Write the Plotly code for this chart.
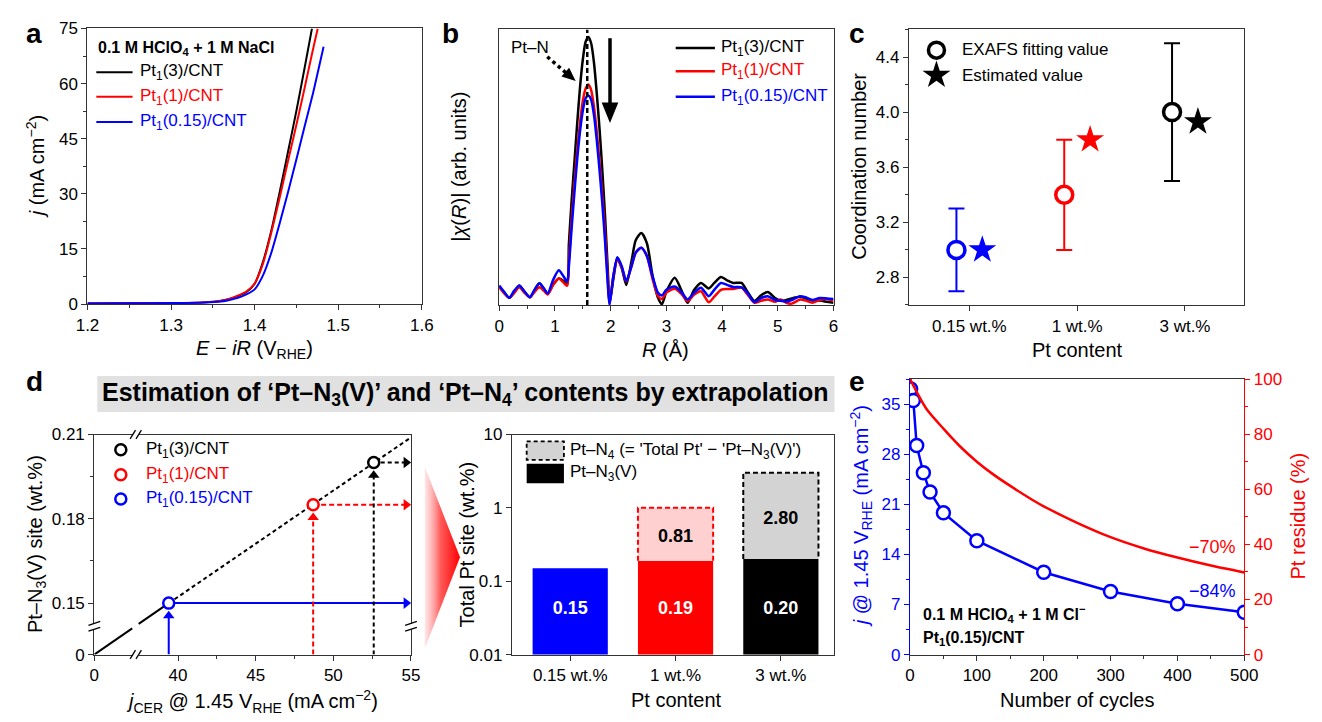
import numpy as np
import plotly.graph_objects as go

W, H = 1322, 722
FONT = "Liberation Sans, Arial, Helvetica, sans-serif"
BLUE, RED, BLACK = "#0000FF", "#FF0000", "#000000"
PINK, GRAY = "#FFD0D0", "#D3D3D3"
AX = "#333333"

# ======================= DATA =======================
# (a) polarization curves
a_E_pt3 = [1.20, 1.25, 1.30, 1.34, 1.36, 1.37, 1.38, 1.39, 1.40, 1.41, 1.42, 1.43, 1.44, 1.45, 1.46, 1.4686]
a_j_pt3 = [0.15, 0.20, 0.25, 0.45, 0.90, 1.40, 2.20, 3.20, 5.50, 11.5, 20.0, 30.5, 41.5, 52.6, 64.5, 75.0]
a_E_pt1 = [1.20, 1.25, 1.30, 1.34, 1.36, 1.37, 1.38, 1.39, 1.40, 1.41, 1.42, 1.43, 1.44, 1.45, 1.46, 1.47, 1.4755]
a_j_pt1 = [0.15, 0.20, 0.25, 0.45, 0.90, 1.45, 2.30, 3.40, 5.60, 11.0, 19.5, 29.0, 39.0, 48.8, 59.0, 69.5, 75.0]
a_E_pt015 = [1.20, 1.25, 1.30, 1.34, 1.36, 1.37, 1.38, 1.39, 1.40, 1.41, 1.42, 1.43, 1.44, 1.45, 1.46, 1.47, 1.4825]
a_j_pt015 = [0.15, 0.20, 0.25, 0.40, 0.70, 1.10, 1.70, 2.60, 4.00, 7.80, 14.0, 22.0, 30.5, 39.4, 48.5, 57.5, 70.0]

# (b) EXAFS |chi(R)| (arb. units)
b_R = [0.00, 0.09, 0.18, 0.27, 0.36, 0.45, 0.55, 0.63, 0.72, 0.80, 0.87, 0.97, 1.07, 1.15, 1.22,
       1.25, 1.30, 1.35, 1.40, 1.45, 1.50, 1.55, 1.60, 1.65, 1.70, 1.75, 1.80, 1.85, 1.90, 1.95, 1.98,
       2.05, 2.12, 2.20, 2.28, 2.38, 2.45, 2.55, 2.65, 2.75, 2.85, 2.92, 3.00, 3.15, 3.28, 3.38, 3.50,
       3.62, 3.76, 3.86, 3.98, 4.10, 4.20, 4.35, 4.45, 4.58, 4.70, 4.82, 4.95, 5.05, 5.15, 5.25, 5.40,
       5.50, 5.62, 5.75, 5.88, 6.00]
b_pt3 = [6.7, 4.5, 2.6, 4.7, 7.0, 4.9, 2.8, 5.2, 7.9, 6.0, 4.0, 7.5, 9.6, 8.8, 7.5,
         22, 38, 52, 66, 79, 89, 95.5, 97.3, 95, 88, 77, 64, 49, 32, 12, 1,
         9.6, 17.2, 13.4, 7.3, 16.5, 23.5, 26.1, 22.4, 10.9, 2.6, 0.3, 4.9, 9.9, 4.9, 0.8, 5.5,
         8.0, 6.0, 8.0, 10.2, 8.8, 8.0, 8.0, 5.0, 1.5, 3.5, 4.7, 2.5, 1.5, 1.8, 2.4, 3.0,
         2.4, 1.6, 1.6, 1.2, 0.8]
b_pt1 = [6.4, 4.2, 2.6, 4.4, 6.4, 4.5, 2.8, 4.6, 6.4, 5.2, 3.8, 7.3, 9.6, 8.2, 7.0,
         16, 31, 44, 56, 66, 74, 78.5, 80, 78, 72, 63, 52, 40, 26, 9, 0.3,
         10.8, 16.5, 13.5, 8.5, 14.5, 19.0, 20.8, 17.8, 9.6, 3.2, 2.2, 4.5, 5.9, 3.8, 1.4, 3.8,
         5.0, 1.0, 3.0, 5.5, 5.8, 5.8, 6.3, 4.0, 0.8, 1.5, 2.0, 1.2, 2.0, 0.8, 0.5, 2.0,
         1.6, 0.8, 1.8, 2.2, 1.6]
b_pt015 = [7.1, 4.7, 2.6, 5.2, 7.1, 5.0, 2.8, 5.4, 7.9, 6.0, 4.2, 9.2, 12.6, 10.5, 8.5,
           14, 28, 41, 53, 63, 70.5, 75, 76, 74.5, 69, 60, 49, 37, 23, 7, 0,
           10.8, 17.2, 14.0, 8.7, 14.5, 19.0, 20.8, 17.8, 10.5, 4.4, 3.5, 5.5, 6.7, 4.4, 2.0, 4.5,
           6.3, 3.2, 5.5, 8.0, 7.2, 6.5, 6.4, 4.5, 1.0, 2.5, 3.2, 1.8, 1.6, 1.2, 1.8, 3.2,
           2.8, 1.8, 2.5, 2.4, 2.2]
b_ptn_R = 1.58

# (c) coordination numbers
c_labels = ["0.15 wt.%", "1 wt.%", "3 wt.%"]
c_exafs = [3.0, 3.4, 4.0]
c_err = [0.3, 0.4, 0.5]
c_est = [3.0, 3.8, 3.93]

# (d-left) Pt-N3(V) site vs j_CER
dl_names = ["Pt<sub>1</sub>(0.15)/CNT", "Pt<sub>1</sub>(1)/CNT", "Pt<sub>1</sub>(3)/CNT"]
dl_j = [39.4, 48.7, 52.6]
dl_site = [0.150, 0.185, 0.200]

# (d-right) total Pt site
dr_labels = ["0.15 wt.%", "1 wt.%", "3 wt.%"]
dr_n3 = [0.15, 0.19, 0.20]
dr_n4 = [0.0, 0.81, 2.80]
dr_n3_text = ["0.15", "0.19", "0.20"]
dr_n4_text = ["", "0.81", "2.80"]

# (e) stability
e_cyc = [0, 1, 5, 10, 20, 30, 50, 100, 200, 300, 400, 500]
e_j = [40.0, 37.1, 35.5, 29.2, 25.4, 22.7, 19.8, 15.9, 11.5, 8.8, 7.1, 5.9]
e_res_cyc = [0, 10, 25, 50, 75, 100, 125, 150, 184, 200, 250, 300, 350, 400, 450, 500]
e_res = [100, 95.3, 89.0, 82.0, 75.5, 70.0, 65.3, 61.2, 56.0, 53.8, 47.8, 42.6, 38.5, 35.2, 32.3, 29.8]

# ======================= HELPERS =======================
def xdom(p0, p1):
    return [p0 / W, p1 / W]

def ydom(top, bot):
    return [1 - bot / H, 1 - top / H]

def PX(x):
    return x / W

def PY(y):
    return 1 - y / H

def mn(dt=None, **kw):
    d = dict(ticks="outside", ticklen=3, tickwidth=1.2, tickcolor=AX)
    if dt is not None:
        d["dtick"] = dt
    d.update(kw)
    return d

def ax(**kw):
    d = dict(showline=True, linecolor=AX, linewidth=1.3, mirror=True, ticks="outside",
             ticklen=5, tickwidth=1.3, tickcolor=AX, showgrid=False, zeroline=False,
             tickfont=dict(family=FONT, size=17, color="black"), fixedrange=True)
    d.update(kw)
    return d

fig = go.Figure()

def S(**kw):
    fig.add_trace(go.Scatter(showlegend=False, hoverinfo="skip", **kw))

annots = []
shapes = []

def txt(s, x, y, size=17, color="black", xa="left", ya="middle", angle=0, bold=False):
    if bold:
        s = "<b>" + s + "</b>"
    annots.append(dict(text=s, x=PX(x), y=PY(y), xref="paper", yref="paper", showarrow=False,
                       xanchor=xa, yanchor=ya, textangle=angle,
                       font=dict(family=FONT, size=size, color=color)))

def tri(pts, color=BLACK):
    path = "M " + " L ".join("%.5f,%.5f" % (PX(x), PY(y)) for x, y in pts) + " Z"
    shapes.append(dict(type="path", path=path, xref="paper", yref="paper",
                       fillcolor=color, line=dict(width=0), layer="above"))

def pline(x0, y0, x1, y1, color=BLACK, width=1.5, dash="solid"):
    shapes.append(dict(type="line", x0=PX(x0), y0=PY(y0), x1=PX(x1), y1=PY(y1), xref="paper",
                       yref="paper", line=dict(color=color, width=width, dash=dash), layer="above"))

def prect(x0, y0, x1, y1, fill="white", lc=None, lw=0, dash="solid"):
    shapes.append(dict(type="rect", x0=PX(x0), y0=PY(y0), x1=PX(x1), y1=PY(y1), xref="paper",
                       yref="paper", fillcolor=fill,
                       line=dict(color=lc or fill, width=lw, dash=dash), layer="above"))

# ======================= PANEL A =======================
for E, j, c in [(a_E_pt3, a_j_pt3, BLACK), (a_E_pt1, a_j_pt1, RED), (a_E_pt015, a_j_pt015, BLUE)]:
    S(x=E, y=j, mode="lines", line=dict(color=c, width=2, shape="spline", smoothing=0.6),
      xaxis="x", yaxis="y")

# ======================= PANEL B =======================
for v, c in [(b_pt3, BLACK), (b_pt1, RED), (b_pt015, BLUE)]:
    S(x=b_R, y=v, mode="lines", line=dict(color=c, width=2.5, shape="spline", smoothing=0.7),
      xaxis="x2", yaxis="y2")
S(x=[b_ptn_R, b_ptn_R], y=[0, 100], mode="lines", line=dict(color=BLACK, width=2.5, dash="5px,3px"),
  xaxis="x2", yaxis="y2")

# ======================= PANEL C =======================
c_cols = [BLUE, RED, BLACK]
for i in range(3):
    S(x=[i + 1 - 0.12], y=[c_exafs[i]], mode="markers",
      marker=dict(symbol="circle", size=17, color="white", line=dict(color=c_cols[i], width=3.5)),
      error_y=dict(type="data", array=[c_err[i]], color=c_cols[i], thickness=2, width=8),
      xaxis="x3", yaxis="y3")
S(x=[i + 1 + 0.12 for i in range(3)], y=c_est, mode="markers",
  marker=dict(symbol="star", size=21, color=c_cols, line=dict(width=0)), xaxis="x3", yaxis="y3")

# ======================= PANEL D-LEFT =======================
DL_X0, DL_Y0 = 34.61, 0.1317   # display positions of the broken-axis origin
xpx = (55 - DL_X0) / 323.0
ypx = (0.21 - DL_Y0) / 226.0
fit = np.polyfit(dl_j, dl_site, 1)
xf = [dl_j[0], 55.0]
S(x=xf, y=list(np.polyval(fit, xf)), mode="lines", line=dict(color=BLACK, width=2, dash="4px,3px"),
  xaxis="x4", yaxis="y4")
ox, oy = DL_X0, DL_Y0
t1, t2 = 0.509, 0.596
S(x=[ox, ox + t1 * (dl_j[0] - ox), None, ox + t2 * (dl_j[0] - ox), dl_j[0]],
  y=[oy, oy + t1 * (dl_site[0] - oy), None, oy + t2 * (dl_site[0] - oy), dl_site[0]],
  mode="lines", line=dict(color=BLACK, width=2), xaxis="x4", yaxis="y4")
dl_cols = [BLUE, RED, BLACK]
dl_dash = ["solid", "5px,3px", "4px,3px"]
r = 5.0
for i in range(3):
    xi, yi, c = dl_j[i], dl_site[i], dl_cols[i]
    tip_y = yi - 8 * ypx
    hy = tip_y - r * ypx
    S(x=[xi, xi], y=[DL_Y0, hy], mode="lines", line=dict(color=c, width=2, dash=dl_dash[i]),
      xaxis="x4", yaxis="y4")
    hx = 55 - r * xpx
    S(x=[xi, hx], y=[yi, yi], mode="lines", line=dict(color=c, width=2, dash=dl_dash[i]),
      xaxis="x4", yaxis="y4")
    S(x=[xi, hx], y=[hy, yi], mode="markers",
      marker=dict(symbol=["triangle-up", "triangle-right"], size=10, color=c, line=dict(width=0)),
      xaxis="x4", yaxis="y4", cliponaxis=False)
S(x=dl_j, y=dl_site, mode="markers",
  marker=dict(symbol="circle", size=11, color="white", line=dict(color=dl_cols, width=2.5)),
  xaxis="x4", yaxis="y4", cliponaxis=False)

# ======================= PANEL D-RIGHT =======================
BW = 0.714
dr_x = [1, 2, 3]
fig.add_trace(go.Bar(x=dr_x, y=dr_n3, width=BW, marker=dict(color=[BLUE, RED, BLACK], line=dict(width=0)),
                     xaxis="x5", yaxis="y5", showlegend=False, hoverinfo="skip"))
fig.add_trace(go.Bar(x=dr_x, y=dr_n4, base=dr_n3, width=BW,
                     marker=dict(color=["white", PINK, GRAY], line=dict(width=0)),
                     xaxis="x5", yaxis="y5", showlegend=False, hoverinfo="skip"))
dr_tot = [a + b for a, b in zip(dr_n3, dr_n4)]
for i, c in [(1, RED), (2, BLACK)]:
    xc = dr_x[i]
    S(x=[xc - BW / 2, xc - BW / 2, xc + BW / 2, xc + BW / 2],
      y=[dr_n3[i], dr_tot[i], dr_tot[i], dr_n3[i]], mode="lines",
      line=dict(color=c, width=2, dash="5px,3px"), xaxis="x5", yaxis="y5")
S(x=dr_x, y=[0.041] * 3, mode="text", text=["<b>%s</b>" % t for t in dr_n3_text],
  textfont=dict(family=FONT, size=18, color="white"), xaxis="x5", yaxis="y5")
S(x=dr_x[1:], y=[0.9 * np.sqrt(dr_n3[i] * dr_tot[i]) for i in (1, 2)], mode="text",
  text=["<b>%s</b>" % t for t in dr_n4_text[1:]],
  textfont=dict(family=FONT, size=18, color="black"), xaxis="x5", yaxis="y5")

# ======================= PANEL E =======================
S(x=e_res_cyc, y=e_res, mode="lines", line=dict(color=RED, width=2.5, shape="spline", smoothing=0.8),
  xaxis="x6", yaxis="y7")
S(x=e_cyc, y=e_j, mode="lines+markers", line=dict(color=BLUE, width=2.5),
  marker=dict(symbol="circle", size=13, color="white", line=dict(color=BLUE, width=2.5)),
  xaxis="x6", yaxis="y6")

# ======================= OVERLAY (pixel space) =======================
S(x=[421, 457, 421, 421], y=[470, 563, 657, 470], mode="lines", line=dict(width=0),
  fill="toself", fillgradient=dict(type="horizontal",
                                   colorscale=[[0, "rgba(255,215,215,0.6)"], [0.45, "rgb(255,90,90)"],
                                               [1, "rgb(255,0,0)"]]),
  xaxis="x8", yaxis="y8")
for yy, c in [(65, BLACK), (90, RED), (116, BLUE)]:
    S(x=[86, 123], y=[yy, yy], mode="lines", line=dict(color=c, width=2), xaxis="x8", yaxis="y8")
for yy, c in [(40, BLACK), (64, RED), (90, BLUE)]:
    S(x=[677, 717], y=[yy, yy], mode="lines", line=dict(color=c, width=2.5), xaxis="x8", yaxis="y8")
S(x=[943], y=[42.3], mode="markers", marker=dict(symbol="circle", size=16, color="white",
  line=dict(color=BLACK, width=3.5)), xaxis="x8", yaxis="y8")
S(x=[943], y=[68], mode="markers", marker=dict(symbol="star", size=21, color=BLACK, line=dict(width=0)),
  xaxis="x8", yaxis="y8")
for yy, c in [(452.7, BLACK), (478.3, RED), (503.3, BLUE)]:
    S(x=[111], y=[yy], mode="markers", marker=dict(symbol="circle", size=11, color="white",
      line=dict(color=c, width=2.5)), xaxis="x8", yaxis="y8")
S(x=[546, 565], y=[49, 65.5], mode="lines", line=dict(color=BLACK, width=3.5, dash="dot"),
  xaxis="x8", yaxis="y8")

tri([(575, 74), (560.5, 69.4), (568.3, 60.4)])
pline(610, 30, 610, 100, width=3.5)
tri([(601.5, 96), (618.5, 96), (610, 117)])

# banner
prect(87, 377, 839, 414, fill="#E1E1E1")
txt("Estimation of ‘Pt–N<sub>3</sub>(V)’ and ‘Pt–N<sub>4</sub>’ contents by extrapolation",
    463, 395, size=25, xa="center", bold=True)

# axis breaks in d-left
prect(123.5, 660.5, 129.5, 665.5)
prect(123.5, 434.5, 129.5, 439.5)
for yb in (663, 437):
    pline(120.5, yb + 4.5, 126, yb - 4.5, width=1.3)
    pline(126.5, yb + 4.5, 132, yb - 4.5, width=1.3)
prect(81.5, 631, 86.5, 637)
prect(404.5, 631, 409.5, 637)
for xb in (84, 407):
    pline(xb - 6, 633, xb + 6, 629, width=1.3)
    pline(xb - 6, 639, xb + 6, 635, width=1.3)

prect(525, 444, 563, 463, fill=GRAY, lc=BLACK, lw=1.8, dash="4px,3px")
prect(525, 467, 563, 487, fill=BLACK)

# ======================= TEXT =======================
for L, x, y in [("a", 22, 25), ("b", 447, 25), ("c", 862, 25), ("d", 23, 383), ("e", 862, 383)]:
    txt(L, x, y, size=28, xa="center", bold=True)

txt("0.1 M HClO<sub>4</sub> + 1 M NaCl", 86, 41, size=16, bold=True)
for yy, c, n in [(65, BLACK, "Pt<sub>1</sub>(3)/CNT"), (90, RED, "Pt<sub>1</sub>(1)/CNT"),
                 (116, BLUE, "Pt<sub>1</sub>(0.15)/CNT")]:
    txt(n, 129, yy, color=c)
for yy, c, n in [(40, BLACK, "Pt<sub>1</sub>(3)/CNT"), (64, RED, "Pt<sub>1</sub>(1)/CNT"),
                 (90, BLUE, "Pt<sub>1</sub>(0.15)/CNT")]:
    txt(n, 721, yy, color=c)
txt("EXAFS fitting value", 967, 42, size=17)
txt("Estimated value", 967, 68, size=17)
for yy, c, n in [(452.7, BLACK, dl_names[2]), (478.3, RED, dl_names[1]), (503.3, BLUE, dl_names[0])]:
    txt(n, 135, yy, color=c)
txt("Pt–N<sub>4</sub> (= 'Total Pt' − 'Pt–N<sub>3</sub>(V)')", 567, 454, size=17)
txt("Pt–N<sub>3</sub>(V)", 567, 477, size=17)
txt("Pt–N", 507, 40, size=17)

txt("−70%", 1251, 553, size=18, color=RED, xa="right")
txt("−84%", 1251, 598, size=18, color=BLUE, xa="right")
txt("0.1 M HClO<sub>4</sub> + 1 M Cl<sup>−</sup>", 927, 621, size=16, bold=True)
txt("Pt<sub>1</sub>(0.15)/CNT", 927, 647, size=16, bold=True)

TS = 20
txt("<i>E</i> − <i>iR</i> (V<sub>RHE</sub>)", 247, 350, size=TS, xa="center")
txt("<i>j</i> (mA cm<sup>−2</sup>)", 24, 162, size=TS, xa="center", angle=-90)
txt("<i>R</i> (Å)", 667, 350, size=TS, xa="center")
txt("|<i>χ</i>(<i>R</i>)| (arb. units)", 456, 162, size=TS, xa="center", angle=-90)
txt("Pt content", 1087, 350, size=TS, xa="center")
txt("Coordination number", 864, 162, size=TS, xa="center", angle=-90)
txt("<i>j</i><sub>CER</sub> @ 1.45 V<sub>RHE</sub> (mA cm<sup>−2</sup>)", 245, 711, size=TS, xa="center")
txt("Pt–N<sub>3</sub>(V) site (wt.%)", 25, 550, size=TS, xa="center", angle=-90)
txt("Pt content", 678, 710, size=TS, xa="center")
txt("Total Pt site (wt.%)", 464, 550, size=TS, xa="center", angle=-90)
txt("Number of cycles", 1087, 710, size=TS, xa="center")
txt("<i>j</i> @ 1.45 V<sub>RHE</sub> (mA cm<sup>−2</sup>)", 866, 521, size=TS, color=BLUE, xa="center", angle=-90)
txt("Pt residue (%)", 1312, 521, size=TS, color=RED, xa="center", angle=-90)

# ======================= LAYOUT =======================
layout = dict(
    width=W, height=H, margin=dict(l=0, r=0, t=0, b=0), paper_bgcolor="white",
    plot_bgcolor="rgba(0,0,0,0)", font=dict(family=FONT, size=17, color="black"),
    showlegend=False, barmode="overlay", hovermode=False,
    xaxis=ax(domain=xdom(77, 418), anchor="y", range=[1.2, 1.6], tick0=1.2, dtick=0.1,
             tickformat=".1f", minor=mn(0.05)),
    yaxis=ax(domain=ydom(20, 303), anchor="x", range=[0, 75], tick0=0, dtick=15, minor=mn(7.5)),
    xaxis2=ax(domain=xdom(497, 838), anchor="y2", range=[0, 6], dtick=1, minor=mn(0.5)),
    yaxis2=ax(domain=ydom(21, 304), anchor="x2", range=[0, 100], showticklabels=False, ticks=""),
    xaxis3=ax(domain=xdom(915, 1257), anchor="y3", range=[0.44, 3.55], tickmode="array",
              tickvals=[1, 2, 3], ticktext=c_labels),
    yaxis3=ax(domain=ydom(21, 304), anchor="x3", range=[2.6, 4.6], tick0=2.8, dtick=0.4,
              tickformat=".1f", minor=mn(0.2)),
    xaxis4=ax(domain=xdom(84, 407), anchor="y4", range=[DL_X0, 55], tickmode="array",
              tickvals=[DL_X0, 40, 45, 50, 55], ticktext=["0", "40", "45", "50", "55"],
              minor=mn(tickmode="array", tickvals=[42.5, 47.5, 52.5])),
    yaxis4=ax(domain=ydom(437, 663), anchor="x4", range=[DL_Y0, 0.21], tickmode="array",
              tickvals=[DL_Y0, 0.15, 0.18, 0.21], ticktext=["0", "0.15", "0.18", "0.21"],
              minor=mn(tickmode="array", tickvals=[0.165, 0.195])),
    xaxis5=ax(domain=xdom(510, 838), anchor="y5", range=[0.447, 3.5], tickmode="array",
              tickvals=dr_x, ticktext=dr_labels),
    yaxis5=ax(domain=ydom(437, 663), anchor="x5", type="log", range=[-2, 1], tickmode="array",
              tickvals=[0.01, 0.1, 1, 10], ticktext=["0.01", "0.1", "1", "10"]),
    xaxis6=ax(domain=xdom(916, 1257), anchor="y6", range=[0, 500], dtick=100, minor=mn(50)),
    yaxis6=ax(domain=ydom(380, 663), anchor="x6", range=[0, 38.5], dtick=7, mirror=False,
              linecolor=BLUE, tickcolor=BLUE, tickfont=dict(family=FONT, size=17, color=BLUE),
              minor=mn(3.5, tickcolor=BLUE)),
    yaxis7=ax(domain=ydom(380, 663), anchor="x6", overlaying="y6", side="right", range=[0, 100],
              dtick=20, mirror=False, linecolor=RED, tickcolor=RED,
              tickfont=dict(family=FONT, size=17, color=RED), minor=mn(10, tickcolor=RED)),
    xaxis8=dict(domain=[0, 1], anchor="y8", range=[0, W], visible=False, fixedrange=True),
    yaxis8=dict(domain=[0, 1], anchor="x8", range=[H, 0], visible=False, fixedrange=True),
    annotations=annots, shapes=shapes,
)
fig.update_layout(**layout)
fig.write_html("out.html")
